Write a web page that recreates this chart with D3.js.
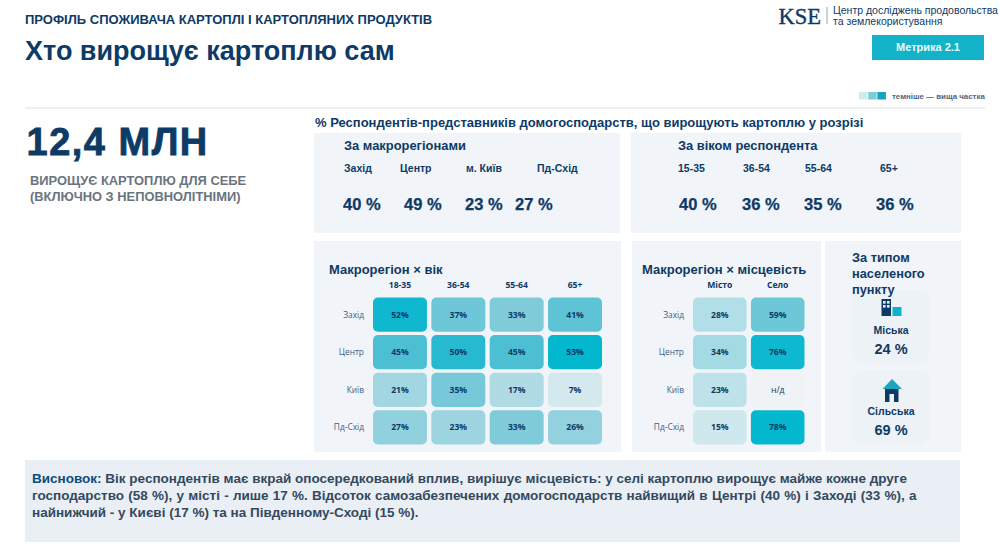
<!DOCTYPE html>
<html lang="uk">
<head>
<meta charset="utf-8">
<script src="https://cdn.jsdelivr.net/npm/d3@7/dist/d3.min.js"></script>
<style>
html,body{margin:0;padding:0;background:#fff;overflow:hidden}
svg{display:block}
text{font-family:"Liberation Sans",Arial,sans-serif}
.cell-text{font-family:"Open Sans","Noto Sans",sans-serif}
</style>
</head>
<body>
<svg id="slide" width="1000" height="549"></svg>
<script>
// Summary strips
const regionNames = ["Захід", "Центр", "м. Київ", "Пд-Схід"];
const regionShares = [40, 49, 23, 27];
const ageNames = ["15-35", "36-54", "55-64", "65+"];
const ageShares = [40, 36, 35, 36];

// Heatmap axes and values
const heatRows = ["Захід", "Центр", "Київ", "Пд-Схід"];
const heatAges = ["18-35", "36-54", "55-64", "65+"];
const regionByAge = [
  [52, 37, 33, 41],
  [45, 50, 45, 53],
  [21, 35, 17, 7],
  [27, 23, 33, 26]
];
const heatSettlements = ["Місто", "Село"];
const regionBySettlement = [
  [28, 59],
  [34, 76],
  [23, null],
  [15, 78]
];

// Settlement cards
const settlementNames = ["Міська", "Сільська"];
const settlementShares = [24, 69];

const navy = "#0e3a66", panel = "#f1f4f8", teal = "#0fb2c8";
const svg = d3.select("#slide");

function label(x, y, str, size, fill, weight, anchor) {
  return svg.append("text").attr("x", x).attr("y", y).text(str)
    .attr("font-size", size).attr("fill", fill)
    .attr("font-weight", weight || "bold")
    .attr("text-anchor", anchor || "start");
}
function box(x, y, w, h, fill, r) {
  return svg.append("rect").attr("x", x).attr("y", y).attr("width", w).attr("height", h)
    .attr("fill", fill).attr("rx", r || 0);
}

// Header
label(25, 24, "ПРОФІЛЬ СПОЖИВАЧА КАРТОПЛІ І КАРТОПЛЯНИХ ПРОДУКТІВ", 13, navy);
label(25, 60, "Хто вирощує картоплю сам", 27, navy);
svg.append("line").attr("x1", 25).attr("x2", 985).attr("y1", 108).attr("y2", 108)
  .attr("stroke", "#dcdfe3").attr("stroke-width", 1);

// Logo block
svg.append("text").attr("x", 778.5).attr("y", 23.5).text("KSE")
  .attr("font-size", 22.5).attr("fill", navy).attr("stroke", navy).attr("stroke-width", 0.4)
  .style("font-family", "'Liberation Serif',serif");
svg.append("line").attr("x1", 827).attr("x2", 827).attr("y1", 7).attr("y2", 24)
  .attr("stroke", "#8ea3b8");
label(833, 14, "Центр досліджень продовольства", 10.5, navy, "normal");
label(833, 25, "та землекористування", 10.5, navy, "normal");

// Metric badge
box(872, 35, 112, 25, "#12b3c8");
label(928, 51, "Метрика 2.1", 11, "#eefafc", "bold", "middle");

// Shade key
["#d3e9ef", "#7fcbda", "#12a5bb"].forEach((c, i) => box(859 + i * 9.2, 92, 8.5, 7.5, c));
label(892, 99, "темніше — вища частка", 7.9, "#50657a");

// Headline figure
label(26.5, 154.5, "12,4 МЛН", 38, navy)
  .attr("letter-spacing", 1.5).attr("stroke", navy).attr("stroke-width", 0.8);
label(30, 185, "ВИРОЩУЄ КАРТОПЛЮ ДЛЯ СЕБЕ", 12.9, "#6a7480");
label(30, 201, "(ВКЛЮЧНО З НЕПОВНОЛІТНІМИ)", 12.9, "#6a7480");

// Section title
label(315, 127, "% Респондентів-представників домогосподарств, що вирощують картоплю у розрізі", 13, navy);

// Panels
box(314, 133, 306, 100, panel);
box(631, 133, 330, 100, panel);
box(314, 241, 307, 211, panel);
box(632, 241, 189, 211, panel);
box(825, 241, 136, 211, panel);
box(25, 460, 935, 82, "#e9eff4");

// Summary strips: names and shares sit on separate offsets, as on a hand-set slide
function strip(title, titleX, names, nameX, shares, shareX) {
  label(titleX, 150, title, 12.9, navy);
  svg.append("g").selectAll("text").data(names).join("text")
    .attr("x", (d, i) => nameX[i]).attr("y", 172).text(d => d)
    .attr("font-size", 10.5).attr("font-weight", "bold").attr("fill", navy);
  svg.append("g").selectAll("text").data(shares).join("text")
    .attr("x", (d, i) => shareX[i]).attr("y", 209.5).text(d => d + " %")
    .attr("font-size", 16.5).attr("font-weight", "bold").attr("fill", navy)
    .attr("stroke", navy).attr("stroke-width", 0.25);
}
strip("За макрорегіонами", 344, regionNames, [344, 400, 466, 537], regionShares, [343, 404, 465, 515]);
strip("За віком респондента", 678, ageNames, [678, 743, 805, 880], ageShares, [679, 742, 804, 876]);

// Heatmaps
function heatmap(o) {
  const x = d3.scaleBand().domain(o.cols).range(o.xRange).paddingInner(o.padX);
  const y = d3.scaleBand().domain(heatRows).range([297.5, 444.5]).paddingInner(0.09);
  const colour = d3.scaleLinear().domain(o.stops).range(o.colours).interpolate(d3.interpolateRgb);

  label(o.titleX, 274, o.title, 13, navy);

  const g = svg.append("g");
  g.selectAll(".col").data(o.cols).join("text")
    .attr("class", "cell-text")
    .attr("x", d => x(d) + x.bandwidth() / 2).attr("y", 288)
    .attr("text-anchor", "middle").attr("font-size", 8.6).attr("font-weight", 700)
    .attr("fill", navy).text(d => d);
  g.selectAll(".row").data(heatRows).join("text")
    .attr("class", "cell-text")
    .attr("x", o.xRange[0] - 9).attr("y", d => y(d) + y.bandwidth() / 2 + 3)
    .attr("text-anchor", "end").attr("font-size", 8.4).attr("fill", "#3f5f7e").text(d => d);

  heatRows.forEach((r, ri) => {
    o.cols.forEach((c, ci) => {
      const v = o.values[ri][ci];
      g.append("rect")
        .attr("x", x(c)).attr("y", y(r))
        .attr("width", x.bandwidth()).attr("height", y.bandwidth()).attr("rx", 5)
        .attr("fill", v === null ? "#f0f3f6" : colour(v));
      g.append("text")
        .attr("class", "cell-text")
        .attr("x", x(c) + x.bandwidth() / 2).attr("y", y(r) + y.bandwidth() / 2 + 3)
        .attr("text-anchor", "middle").attr("font-size", 8.6)
        .attr("font-weight", v === null ? 400 : 700)
        .attr("fill", navy)
        .text(v === null ? "н/д" : v + "%");
    });
  });
}
heatmap({
  title: "Макрорегіон × вік", titleX: 329, cols: heatAges, values: regionByAge,
  xRange: [373, 602], padX: 0.075,
  stops: [7, 21, 33, 45, 50, 53], colours: ["#d3e9ee", "#a2d6e1", "#7fcbda", "#4dbfd3", "#27b9cf", "#03b7ce"]
});
heatmap({
  title: "Макрорегіон × місцевість", titleX: 642, cols: heatSettlements, values: regionBySettlement,
  xRange: [693, 804.5], padX: 0.075,
  stops: [15, 59, 78], colours: ["#cfe8ee", "#6cc7d7", "#03b7ce"]
});

// Settlement cards
box(852, 290, 78, 73, "#edf2f7", 12);
box(852, 370, 78, 74, "#edf2f7", 12);
label(852, 262, "За типом", 12.8, navy);
label(852, 278, "населеного", 12.8, navy);
label(852, 294, "пункту", 12.8, navy);

// City icon: tower plus low block
box(881.5, 299, 9.5, 17, navy);
box(892.5, 307, 9, 9, teal);
[[883, 301], [887, 301], [883, 305], [887, 305]].forEach(p =>
  box(p[0], p[1], 2.6, 2.6, "#e8f1f6"));

// House icon: roof and walls
svg.append("path").attr("d", d3.line()([[882.5, 389], [892, 379], [902, 389]]) + "Z").attr("fill", "#1aa6bd");
box(885, 389, 13.5, 13, navy);
box(889.5, 394, 4.5, 8, "#edf2f7");

settlementNames.forEach((n, i) => {
  const yName = [334, 415][i], yVal = [354, 435][i];
  label(891, yName, n, 10.5, navy, "bold", "middle");
  label(891, yVal, settlementShares[i] + " %", 14.5, navy, "bold", "middle");
});

// Conclusion
const body = "#34495e";
const t1 = label(32, 483, "Висновок:", 13.5, "#0e4a80");
t1.append("tspan").attr("fill", body)
  .text(" Вік респондентів має вкрай опосередкований вплив, вирішує місцевість: у селі картоплю вирощує майже кожне друге");
label(32, 500, "господарство (58 %), у місті - лише 17 %. Відсоток самозабезпечених домогосподарств найвищий в Центрі (40 %) і Заході (33 %), а", 13.5, body)
  .attr("word-spacing", 0.5);
label(32, 517, "найнижчий - у Києві (17 %) та на Південному-Сході (15 %).", 13.5, body);
</script>
</body>
</html>
